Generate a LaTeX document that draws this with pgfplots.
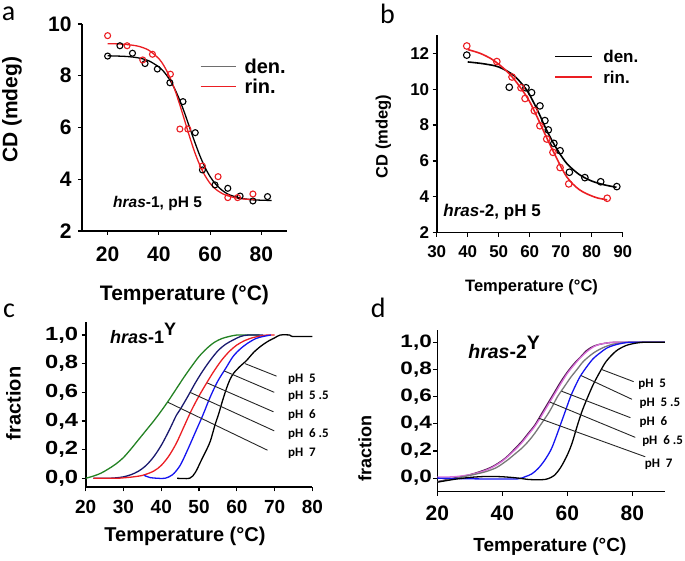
\documentclass[border=0pt]{standalone}
\usepackage{fontspec}
\setmainfont{Liberation Sans}
\newfontfamily\carlito{Carlito}
\usepackage{graphicx}
\usepackage{pgfplots}
\pgfplotsset{compat=1.18}
\newcommand\fs[1]{\fontsize{#1}{#1}\selectfont}
\newcommand\pnum{\pgfmathprintnumber[assume math mode=true,use comma,fixed,fixed zerofill,precision=1]{\tick}}
\definecolor{cgreen}{RGB}{35,130,35}
\definecolor{cnavy}{RGB}{25,25,110}
\definecolor{cred}{RGB}{235,30,35}
\definecolor{cblue}{RGB}{20,20,240}
\definecolor{dpurple}{RGB}{80,25,80}
\definecolor{dpink}{RGB}{215,110,215}
\definecolor{dgray}{RGB}{120,120,120}
\definecolor{lgray}{RGB}{110,110,110}
\pgfplotsset{
  panel/.style={
    scale only axis, anchor=south west,
    axis x line=bottom, axis y line=left,
    axis line style={-, line width=1.6pt},
    tick align=outside, major tick length=4pt,
    tick style={line width=1.2pt, black},
    /pgf/number format/assume math mode=true,
    clip=false,
    xlabel style={anchor=center}, ylabel style={anchor=center},
  },
  pts/.style={only marks, mark=o, mark size=3pt, mark options={line width=1.1pt}},
  crv/.style={smooth, line width=1.3pt, no marks},
}
\begin{document}
\begin{tikzpicture}
\useasboundingbox (0,0) rectangle (685pt,561pt);
% ---------- panel a ----------
\begin{axis}[panel, at={(82pt,330pt)}, width=205pt, height=207pt,
  xmin=10, xmax=90, ymin=2, ymax=10, xtick={20,40,60,80}, ytick={2,4,6,8,10},
  ticklabel style={font=\bfseries\fs{21}},
  xticklabel style={yshift=-8pt},
  yticklabel style={xshift=-3pt},
  xlabel={Temperature (°C)}, ylabel={CD (mdeg)},
  label style={font=\bfseries\fs{21}},
  xlabel style={at={(axis description cs:0.5,-0.309)}},
  ylabel style={at={(axis description cs:-0.341,0.585)}},
]
\addplot[crv, black] coordinates {(20,8.77)(24,8.76)(28,8.74)(32,8.69)(36,8.58)(40,8.34)(42,8.15)(44,7.88)(46,7.53)(48,7.09)(50,6.57)(52,6.00)(54,5.44)(56,4.91)(58,4.46)(60,4.10)(62,3.83)(64,3.63)(66,3.48)(68,3.38)(72,3.27)(76,3.21)(80,3.19)(84,3.18)};
\addplot[crv, cred] coordinates {(20,9.24)(24,9.23)(28,9.20)(32,9.14)(36,8.99)(40,8.66)(42,8.38)(44,8.00)(46,7.52)(48,6.93)(50,6.29)(52,5.64)(54,5.04)(56,4.54)(58,4.14)(60,3.84)(62,3.63)(64,3.49)(66,3.39)(70,3.28)(74,3.23)(78,3.21)};
\addplot[pts, black] coordinates {(20,8.76)(24.8,9.16)(29.7,8.87)(34.6,8.47)(39.4,8.26)(44.3,7.73)(49.4,7.00)(54.2,5.80)(57.0,4.36)(61.9,3.78)(66.9,3.65)(71.7,3.35)(76.7,3.16)(82.4,3.33)};
\addplot[pts, cred] coordinates {(20,9.55)(27.6,9.16)(33.7,8.61)(37.5,8.83)(44.5,8.06)(48.2,5.94)(51.3,5.94)(57.0,4.51)(63.1,4.10)(66.9,3.29)(70.7,3.29)(76.7,3.43)};
\draw[lgray, line width=1.5pt] (axis cs:56.3,8.35) -- (axis cs:70.1,8.35);
\draw[cred, line width=1.5pt] (axis cs:56.3,7.58) -- (axis cs:70.1,7.58);
\node[anchor=west, font=\bfseries\fs{20}, inner sep=0pt] at (axis cs:73.4,8.35) {den.};
\node[anchor=west, font=\bfseries\fs{20}, inner sep=0pt] at (axis cs:73.4,7.58) {rin.};
\node[anchor=west, font=\bfseries\fs{15.5}, inner sep=0pt] at (axis cs:22.1,3.07) {\textit{hras}-1, pH 5};
\end{axis}
% ---------- panel b ----------
\begin{axis}[panel, at={(436.7pt,328.3pt)}, width=186pt, height=197.3pt,
  xmin=30, xmax=90, ymin=2, ymax=13, xtick={30,40,...,90}, ytick={2,4,...,12},
  ticklabel style={font=\bfseries\fs{17}},
  xticklabel style={yshift=-5pt},
  xlabel={Temperature (°C)}, ylabel={CD (mdeg)},
  label style={font=\bfseries\fs{16.5}},
  xlabel style={at={(axis description cs:0.51,-0.275)}},
  ylabel style={at={(axis description cs:-0.287,0.487)}},
]
\addplot[crv, black, line width=1.6pt] coordinates {(40,11.52)(45,11.42)(50,11.24)(55,10.75)(59,9.96)(61,9.35)(63,8.65)(65,7.88)(67,7.2)(69,6.6)(72,5.85)(76,5.24)(80,4.88)(84,4.67)(88,4.53)};
\addplot[crv, cred, line width=1.6pt] coordinates {(40,12.21)(44,12.0)(48,11.65)(52,11.1)(55,10.55)(58,9.85)(60,9.3)(62,8.6)(64,7.85)(66,7.1)(68,6.4)(70,5.7)(72,5.1)(74,4.7)(76,4.4)(78,4.2)(80,4.05)(82,3.93)(85,3.83)};
\addplot[pts, black, mark size=3.3pt] coordinates {(39.7,11.9)(53.4,10.11)(58.8,10.08)(60.6,9.81)(63.3,9.07)(64.9,8.25)(66.0,7.73)(67.8,6.98)(69.8,6.57)(72.8,5.37)(77.8,5.07)(82.9,4.84)(88.1,4.57)};
\addplot[pts, cred, mark size=3.3pt] coordinates {(39.7,12.41)(49.4,11.54)(54.3,10.68)(57.2,10.08)(58.5,9.48)(61.5,8.80)(63.3,7.96)(65.5,7.22)(67.5,6.48)(69.8,5.63)(72.6,4.72)(85.0,3.92)};
\draw[black, line width=1.8pt] (axis cs:68.2,11.82) -- (axis cs:80,11.82);
\draw[cred, line width=1.8pt] (axis cs:68.2,10.67) -- (axis cs:80,10.67);
\node[anchor=west, font=\bfseries\fs{17}, inner sep=0pt] at (axis cs:83.7,11.82) {den.};
\node[anchor=west, font=\bfseries\fs{17}, inner sep=0pt] at (axis cs:83.7,10.67) {rin.};
\node[anchor=west, font=\bfseries\fs{17}, inner sep=0pt] at (axis cs:32.1,3.17) {\textit{hras}-2, pH 5};
\end{axis}
% ---------- panel c ----------
\begin{axis}[panel, at={(85.7pt,73.7pt)}, width=226.7pt, height=165.6pt,
  xmin=20, xmax=80, ymin=-0.063, ymax=1.093, xtick={20,30,...,80},
  ytick={0,0.2,0.4,0.6,0.8,1},
  yticklabel={\scalebox{1.25}[1]{\pnum}},
  ticklabel style={font=\bfseries\fs{19}},
  xticklabel style={yshift=-5pt},
  xlabel={Temperature (°C)}, ylabel={fraction},
  label style={font=\bfseries\fs{20}},
  xlabel style={at={(axis description cs:0.438,-0.298)}},
  ylabel style={at={(axis description cs:-0.319,0.507)}},
]
\addplot[crv, cgreen] coordinates {(20,0.0)(22,0.015)(24,0.035)(26,0.065)(28,0.1)(30,0.145)(32,0.205)(34,0.27)(36,0.335)(38,0.40)(40,0.47)(42,0.545)(44,0.625)(46,0.705)(48,0.78)(50,0.85)(52,0.905)(54,0.948)(56,0.975)(58,0.99)(60,1.0)(62,1.0)(66,1.0)};
\addplot[crv, cnavy] coordinates {(22,0)(26,0)(28,0.003)(30,0.01)(32,0.025)(34,0.05)(36,0.09)(38,0.15)(40,0.23)(42,0.33)(44,0.44)(45,0.48)(47,0.57)(49,0.665)(51,0.75)(53,0.825)(55,0.89)(57,0.935)(59,0.965)(61,0.99)(63,1.0)(67,1.0)};
\addplot[crv, cred] coordinates {(22,0)(28,0)(30,0.003)(32,0.008)(35,0.02)(38,0.05)(40,0.09)(42,0.155)(44,0.245)(46,0.36)(48,0.475)(50,0.575)(52,0.665)(54,0.75)(56,0.825)(58,0.885)(60,0.93)(62,0.96)(64,0.98)(66,0.992)(68,1.0)(70,1.0)};
\addplot[crv, cblue] coordinates {(35.5,0.02)(37,0.005)(39,0)(41,0)(43,0.025)(45,0.09)(47,0.2)(49,0.32)(51,0.44)(53,0.57)(55,0.68)(57,0.765)(59,0.85)(61,0.905)(63,0.945)(65,0.975)(67,0.99)(69,1.0)};
\addplot[crv, black] coordinates {(44.2,0)(47.5,0)(49,0.04)(50.5,0.12)(52,0.2)(53,0.26)(54.2,0.37)(55.2,0.45)(56.2,0.54)(57.3,0.63)(58.2,0.69)(59.2,0.735)(61,0.785)(62.5,0.82)(64.5,0.88)(66.5,0.925)(68.5,0.96)(70,0.98)(71.5,1.0)(74,1.0)(74.7,0.99)(80,0.99)};
\draw[black!85, line width=0.9pt] (axis cs:62.2,0.80) -- (axis cs:70.5,0.713);
\draw[black!85, line width=0.9pt] (axis cs:56.6,0.75) -- (axis cs:69.9,0.60);
\draw[black!85, line width=0.9pt] (axis cs:52.2,0.665) -- (axis cs:69.7,0.464);
\draw[black!85, line width=0.9pt] (axis cs:47.6,0.60) -- (axis cs:69.9,0.331);
\draw[black!85, line width=0.9pt] (axis cs:41.8,0.53) -- (axis cs:68.1,0.196);
\node[anchor=west, font=\carlito\bfseries\fs{13}, inner sep=0pt] at (axis cs:73.5,0.69) {pH~~5};
\node[anchor=west, font=\carlito\bfseries\fs{13}, inner sep=0pt] at (axis cs:73.5,0.573) {pH~~5~.5};
\node[anchor=west, font=\carlito\bfseries\fs{13}, inner sep=0pt] at (axis cs:73.5,0.44) {pH~~6};
\node[anchor=west, font=\carlito\bfseries\fs{13}, inner sep=0pt] at (axis cs:73.5,0.31) {pH~~6~.5};
\node[anchor=west, font=\carlito\bfseries\fs{13}, inner sep=0pt] at (axis cs:73.5,0.177) {pH~~7};
\node[anchor=west, font=\bfseries\fs{18}, inner sep=0pt] at (axis cs:26.4,1.014) {\textit{hras}-1\raisebox{0.45em}{Y}};
\end{axis}
% ---------- panel d ----------
\begin{axis}[panel, at={(437.3pt,69.3pt)}, width=227.5pt, height=161.7pt,
  xmin=20, xmax=90, ymin=-0.1, ymax=1.09, xtick={20,40,60,80},
  ytick={0,0.2,0.4,0.6,0.8,1},
  yticklabel={\scalebox{1.25}[1]{\pnum}},
  yticklabel style={font=\bfseries\fs{18}, xshift=2pt},
  xticklabel style={font=\bfseries\fs{21}, yshift=-7pt},
  xlabel={Temperature (°C)}, ylabel={fraction},
  xlabel style={font=\bfseries\fs{19}, at={(axis description cs:0.495,-0.34)}},
  ylabel style={font=\bfseries\fs{18}, at={(axis description cs:-0.318,0.268)}},
]
\addplot[crv, dpurple] coordinates {(20,-0.027)(25,0.0)(30,0.025)(34,0.055)(37,0.085)(40,0.13)(42,0.17)(44,0.22)(46,0.27)(48,0.33)(50,0.39)(52,0.47)(54,0.55)(56,0.63)(58,0.71)(60,0.78)(62,0.84)(64,0.89)(66,0.94)(68,0.97)(70,0.985)(73,0.997)(76,1.0)(80,1.0)(90,1.0)};
\addplot[crv, dpink] coordinates {(20,0.008)(25,0.01)(30,0.025)(34,0.05)(37,0.08)(40,0.125)(42,0.165)(44,0.21)(46,0.26)(48,0.32)(50,0.38)(52,0.455)(54,0.535)(56,0.615)(58,0.695)(60,0.77)(62,0.83)(64,0.885)(66,0.93)(68,0.965)(70,0.985)(73,0.997)(76,1.0)(90,1.0)};
\addplot[crv, dgray] coordinates {(20,-0.027)(25,-0.005)(28,0.01)(32,0.03)(35,0.048)(38,0.075)(40,0.105)(42,0.14)(44,0.18)(46,0.22)(48,0.27)(50,0.33)(52,0.40)(54,0.47)(55,0.51)(57,0.60)(59,0.67)(61,0.74)(63,0.80)(65,0.86)(68,0.92)(71,0.96)(74,0.985)(77,0.995)(80,1.0)(90,1.0)};
\addplot[crv, cblue] coordinates {(20,0.0)(30,-0.005)(40,-0.007)(45,-0.005)(47,0.01)(49,0.03)(51,0.07)(53,0.13)(55,0.21)(56.5,0.30)(58,0.40)(59.5,0.50)(61,0.60)(62.5,0.68)(64,0.75)(66,0.82)(68,0.88)(70,0.92)(72,0.955)(74,0.975)(77,0.993)(80,1.0)(90,1.0)};
\addplot[crv, black] coordinates {(20,-0.03)(25,-0.01)(30,0.005)(35,0.012)(40,0.01)(45,0.0)(48,-0.01)(52,-0.012)(54,-0.005)(56,0.02)(58,0.08)(60,0.17)(61.5,0.26)(63,0.38)(64.5,0.49)(66,0.58)(68,0.69)(70,0.78)(72,0.86)(75,0.935)(78,0.975)(81,0.993)(84,1.0)(90,1.0)};
\draw[black!85, line width=0.9pt] (axis cs:70.5,0.80) -- (axis cs:80.4,0.71);
\draw[black!85, line width=0.9pt] (axis cs:64.2,0.755) -- (axis cs:79.9,0.58);
\draw[black!85, line width=0.9pt] (axis cs:58.2,0.64) -- (axis cs:79.4,0.445);
\draw[black!85, line width=0.9pt] (axis cs:54.6,0.56) -- (axis cs:80.9,0.30);
\draw[black!85, line width=0.9pt] (axis cs:51.3,0.44) -- (axis cs:84.0,0.157);
\node[anchor=west, font=\carlito\bfseries\fs{13}, inner sep=0pt] at (axis cs:81.8,0.69) {pH~~5};
\node[anchor=west, font=\carlito\bfseries\fs{13}, inner sep=0pt] at (axis cs:82.2,0.55) {pH~~5~.5};
\node[anchor=west, font=\carlito\bfseries\fs{13}, inner sep=0pt] at (axis cs:82.2,0.41) {pH~~6};
\node[anchor=west, font=\carlito\bfseries\fs{13}, inner sep=0pt] at (axis cs:83.0,0.275) {pH~~6~.5};
\node[anchor=west, font=\carlito\bfseries\fs{13}, inner sep=0pt] at (axis cs:83.8,0.105) {pH~~7};
\node[anchor=west, font=\bfseries\fs{19.5}, inner sep=0pt] at (axis cs:29.5,0.96) {\textit{hras}-2\raisebox{0.45em}{Y}};
\end{axis}
% panel letters
\node[font=\carlito\fs{28}] at (8.5pt,547.5pt) {a};
\node[font=\carlito\fs{28}] at (387.5pt,547.5pt) {b};
\node[font=\carlito\fs{28}] at (9pt,250pt) {c};
\node[font=\carlito\fs{28}] at (378.3pt,252.7pt) {d};
\end{tikzpicture}
\end{document}
